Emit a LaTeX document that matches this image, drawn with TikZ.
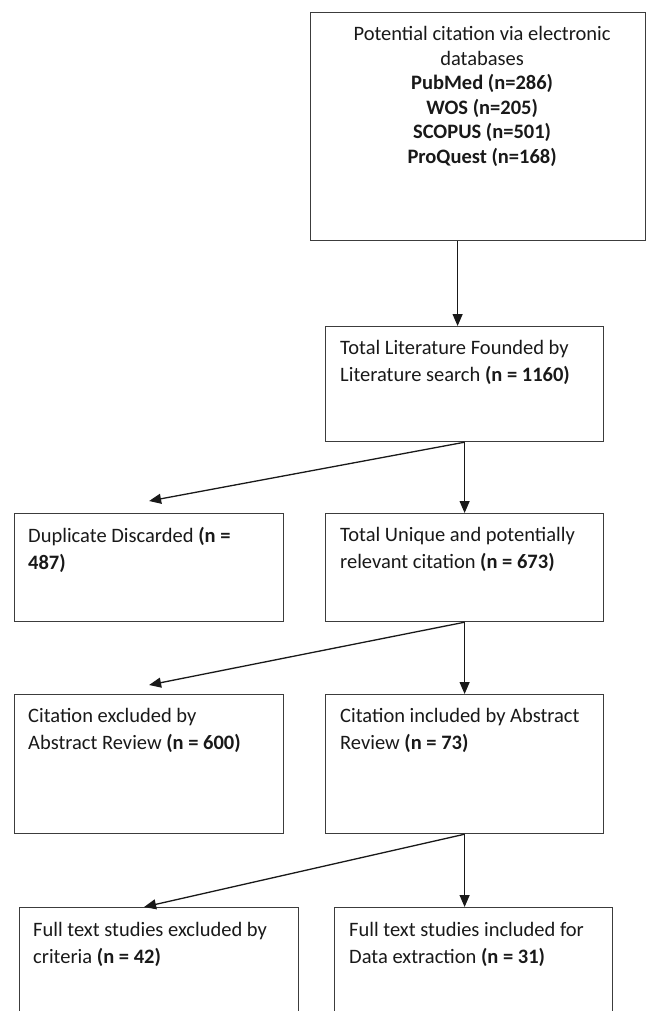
\documentclass[tikz,border=0pt]{standalone}
\usepackage{fontspec}
\setmainfont{Carlito}
\usetikzlibrary{arrows.meta}
\definecolor{boxgray}{RGB}{60, 60, 60}
\definecolor{inkblack}{RGB}{25, 25, 25}

\begin{document}
\begin{tikzpicture}[
        x=1pt, y=-1pt,
        box/.style={draw=boxgray, line width=1.2pt, inner sep=0pt, anchor=north west},
        txt/.style={anchor=north west, inner sep=0pt, align=left, text=inkblack,
          font=\fontsize{20.5}{27.5}\selectfont, execute at begin node=\strut},
        arrow/.style={-{Triangle[length=12pt, width=10pt]}, line width=1.3pt, color=inkblack}
      ]
        \clip (0,0) rectangle (647,1011);
        \node[box, minimum width=335, minimum height=228] (srch) at (310,12) {};
        \node[box, minimum width=278, minimum height=115] (found) at (325,326) {};
        \node[box, minimum width=269, minimum height=108] (dup) at (14,513) {};
        \node[box, minimum width=278, minimum height=108] (uniq) at (325,513) {};
        \node[box, minimum width=269, minimum height=139] (excl) at (14,694) {};
        \node[box, minimum width=278, minimum height=139] (incl) at (325,694) {};
        \node[box, minimum width=279, minimum height=140] (ftex) at (19,907) {};
        \node[box, minimum width=278, minimum height=140] (ftin) at (334,907) {};
        % texts
        \node[txt, anchor=north, align=center, font=\fontsize{20.5}{24.6}\selectfont]
          (srch-t) at ([shift={(4,14)}]srch.north)
          {Potential citation via electronic\\ databases\\ \textbf{PubMed (n=286)}\\
           \textbf{WOS (n=205)}\\ \textbf{SCOPUS (n=501)}\\ \textbf{ProQuest (n=168)}};
        \node[txt] (found-t) at ([shift={(15,14)}]found.north west)
          {Total Literature Founded by\\ Literature search \textbf{(n = 1160)}};
        \node[txt] (dup-t) at ([shift={(14,14)}]dup.north west)
          {Duplicate Discarded \textbf{(n =}\\ \textbf{487)}};
        \node[txt] (uniq-t) at ([shift={(15,14)}]uniq.north west)
          {Total Unique and potentially\\ relevant citation \textbf{(n = 673)}};
        \node[txt] (excl-t) at ([shift={(14,14)}]excl.north west)
          {Citation excluded by\\ Abstract Review \textbf{(n = 600)}};
        \node[txt] (incl-t) at ([shift={(15,14)}]incl.north west)
          {Citation included by Abstract\\ Review \textbf{(n = 73)}};
        \node[txt] (ftex-t) at ([shift={(14,15)}]ftex.north west)
          {Full text studies excluded by\\ criteria \textbf{(n = 42)}};
        \node[txt] (ftin-t) at ([shift={(15,15)}]ftin.north west)
          {Full text studies included for\\ Data extraction \textbf{(n = 31)}};
        % connectors
        \draw[arrow] ([xshift=-20.5]srch.south) -- ([xshift=-7]found.north);
        \draw[arrow] (found.south) -- (uniq.north);
        \draw[arrow] (found.south) -- ([yshift=12]dup.north);
        \draw[arrow] (uniq.south) -- (incl.north);
        \draw[arrow] (uniq.south) -- ([yshift=9]excl.north);
        \draw[arrow] (incl.south) -- (incl.south |- ftin.north);
        \draw[arrow] (incl.south) -- ([xshift=-15]ftex.north);
      \end{tikzpicture}
\end{document}
